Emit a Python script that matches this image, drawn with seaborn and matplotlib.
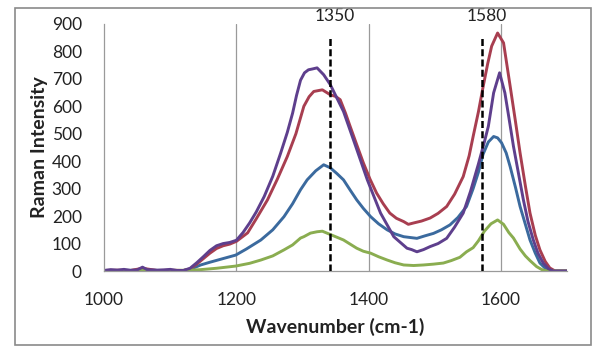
import numpy as np
import pandas as pd
import matplotlib
matplotlib.use("Agg")
import matplotlib.pyplot as plt
import seaborn as sns

# --- valori (numero d'onda, intensità) ---
purple_x = [1000, 1010, 1020, 1030, 1040, 1050, 1058, 1065, 1080, 1090, 1100, 1110, 1120, 1130, 1140,
            1150, 1160, 1170, 1180, 1190, 1200, 1210, 1220, 1230, 1242, 1255, 1267, 1277, 1285, 1291,
            1297, 1303, 1309, 1315, 1322, 1332, 1342, 1352, 1362, 1377, 1398, 1418, 1438, 1458, 1465, 1473,
            1483, 1493, 1505, 1518, 1530, 1543, 1554, 1566, 1575, 1581, 1589, 1598, 1606, 1612, 1619,
            1627, 1634, 1641, 1649, 1656, 1664, 1672, 1679, 1700]
purple_y = [2, 5, 3, 6, 2, 4, 14, 5, 3, 4, 6, 2, 2, 10, 30,
            52, 75, 92, 100, 104, 112, 140, 175, 215, 271, 345, 430, 505, 575, 640,
            695, 722, 733, 736, 740, 715, 679, 630, 581, 478, 332, 211, 125, 83, 78, 70,
            78, 89, 100, 119, 160, 211, 290, 390, 470, 527, 649, 722, 649, 560, 454,
            350, 259, 180, 113, 65, 29, 8, 0, 0]

red_x = [1000, 1020, 1040, 1058, 1080, 1100, 1120, 1130, 1140, 1150, 1160, 1170, 1180, 1190, 1200,
         1217, 1230, 1247, 1262, 1277, 1290, 1302, 1310, 1317, 1330, 1342, 1350, 1357, 1365, 1372,
         1382, 1392, 1402, 1412, 1422, 1432, 1442, 1453, 1460, 1468, 1480, 1493, 1505, 1518, 1530,
         1543, 1552, 1558, 1566, 1573, 1580, 1586, 1595, 1604, 1614, 1622, 1629, 1637, 1644, 1652,
         1659, 1667, 1674, 1682, 1700]
red_y = [2, 3, 2, 10, 2, 3, 2, 8, 25, 45, 65, 82, 92, 98, 108,
         139, 190, 259, 335, 417, 500, 600, 635, 654, 660, 642, 636, 624, 575, 527,
         460, 394, 335, 284, 245, 211, 192, 180, 170, 175, 182, 193, 210, 235, 280,
         344, 420, 490, 580, 670, 755, 819, 867, 831, 673, 545, 430, 310, 211, 130,
         77, 35, 11, 0, 0]

blue_x = [1000, 1050, 1100, 1120, 1130, 1146, 1160, 1175, 1190, 1199, 1215, 1237, 1255, 1272, 1285,
          1297, 1307, 1320, 1332, 1342, 1352, 1362, 1372, 1382, 1392, 1403, 1415, 1428, 1440, 1453,
          1463, 1473, 1485, 1498, 1510, 1523, 1535, 1548, 1558, 1566, 1573, 1581, 1589, 1595, 1601,
          1608, 1614, 1622, 1629, 1637, 1644, 1652, 1659, 1667, 1674, 1700]
blue_y = [2, 3, 2, 2, 6, 22, 32, 42, 52, 58, 80, 113, 150, 198, 245,
          296, 332, 365, 387, 376, 355, 332, 295, 259, 228, 198, 172, 150, 135, 125,
          122, 119, 128, 137, 150, 168, 195, 235, 300, 360, 425, 470, 490, 485, 467,
          430, 380, 305, 235, 170, 113, 65, 29, 10, 0, 0]

green_x = [1000, 1100, 1130, 1146, 1170, 1199, 1220, 1237, 1255, 1272, 1285, 1297, 1302, 1312, 1322,
           1330, 1337, 1350, 1362, 1372, 1382, 1392, 1403, 1415, 1428, 1440, 1453, 1468, 1483, 1498,
           1513, 1525, 1538, 1548, 1558, 1566, 1575, 1585, 1595, 1604, 1612, 1619, 1629, 1637, 1644,
           1654, 1662, 1670, 1700]
green_y = [2, 2, 3, 5, 10, 18, 28, 40, 55, 77, 95, 120, 125, 138, 143,
           145, 138, 125, 113, 98, 83, 72, 65, 52, 40, 30, 22, 20, 22, 25,
           29, 38, 50, 70, 85, 110, 145, 172, 186, 170, 140, 120, 80, 55, 38,
           16, 5, 0, 0]

# posizioni delle linee tratteggiate e relative etichette
peak_pos = [1341, 1571]
peak_labels = ["1350", "1580"]

series_names = ["blue", "red", "green", "purple"]
colors = {"blue": "#3b6a9e", "red": "#a83e50", "green": "#8aad50", "purple": "#5e3f8d"}

frames = []
for name, xs, ys in [("blue", blue_x, blue_y), ("red", red_x, red_y),
                     ("green", green_x, green_y), ("purple", purple_x, purple_y)]:
    frames.append(pd.DataFrame({"Wavenumber": xs, "Intensity": ys, "Serie": name}))
df = pd.concat(frames, ignore_index=True)

sns.set_style("white")
plt.rcParams["font.family"] = ["Lato", "DejaVu Sans"]

fig = plt.figure(figsize=(5.95, 3.47), dpi=100)
ax = fig.add_axes([0.175, 0.219, 0.778, 0.712])

# griglia verticale
for gx in [1200, 1400, 1600]:
    ax.axvline(gx, color="#9a9a9a", linewidth=0.9, zorder=0)

sns.lineplot(data=df, x="Wavenumber", y="Intensity", hue="Serie", hue_order=series_names,
             palette=colors, estimator=None, sort=False, linewidth=2.1, legend=False, ax=ax)

for px, lab in zip(peak_pos, peak_labels):
    ax.plot([px, px], [0, 850], color="black", linestyle=(0, (2.8, 1.3)), linewidth=1.8, zorder=5)
    ax.text(px + 8, 900, lab, ha="center", va="bottom", fontsize=12.5, color="#222222")

ax.set_xlim(1000, 1700)
ax.set_ylim(0, 900)
ax.set_xticks([1000, 1200, 1400, 1600])
ax.set_yticks(range(0, 1000, 100))
ax.tick_params(axis="both", labelsize=12.5, colors="#9a9a9a", labelcolor="#222222",
               direction="out", width=0.9)
ax.tick_params(axis="y", length=5, pad=11)
ax.tick_params(axis="x", length=7, pad=8)
ax.set_xlabel("Wavenumber (cm-1)", fontsize=14, fontweight="bold", color="#222222", labelpad=7)
ax.set_ylabel("Raman Intensity", fontsize=14, fontweight="bold", color="#222222", labelpad=3)
sns.despine(ax=ax)
for s in ["left", "bottom"]:
    ax.spines[s].set_color("#9a9a9a")
    ax.spines[s].set_linewidth(0.9)

# cornice esterna del grafico
fig.patches.append(plt.Rectangle((0.025, 0.006), 0.968, 0.972, transform=fig.transFigure,
                                 fill=False, edgecolor="#8a8a8a", linewidth=1.2))

fig.savefig("out.png", dpi=100)
